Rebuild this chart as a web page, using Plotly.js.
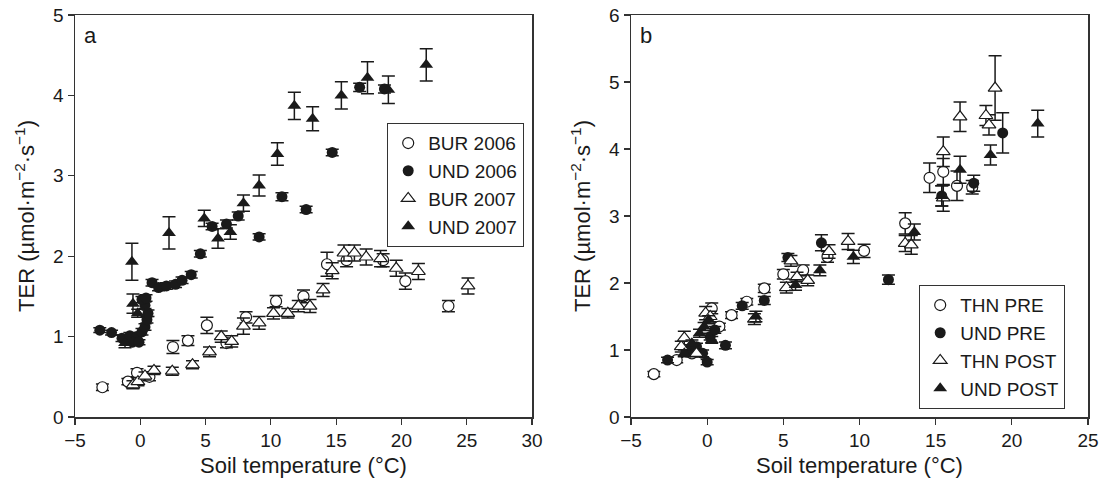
<!DOCTYPE html>
<html>
<head>
<meta charset="utf-8">
<script src="https://cdn.plot.ly/plotly-3.0.1.min.js"></script>
<style>html,body{margin:0;padding:0;background:#fff;}#chart{width:1101px;height:478px;}</style>
</head>
<body>
<div id="chart"></div>
<script>
// ---------- Panel a ----------
const a_bur2006_x = [-2.9, -0.95, -0.25, 0.7, 2.5, 3.65, 5.1, 6.6, 8.1, 10.4, 12.5, 14.3, 15.8, 18.6, 20.3, 23.6];
const a_bur2006_y = [0.37, 0.44, 0.55, 0.50, 0.87, 0.95, 1.14, 0.92, 1.24, 1.44, 1.50, 1.90, 1.95, 1.95, 1.69, 1.38];
const a_bur2006_e = [0.04, 0.04, 0.05, 0.05, 0.08, 0.06, 0.10, 0.06, 0.07, 0.07, 0.08, 0.15, 0.08, 0.08, 0.10, 0.07];

const a_und2006_x = [-3.1, -2.2, -1.4, -0.8, -0.25, -0.6, -0.1, 0.13, 0.36, 0.51, 0.59, 0.36, 0.13, 0.44, 0.9, 1.4, 2.0, 2.7, 3.2, 3.9, 4.6, 5.5, 6.6, 7.5, 9.1, 10.85, 12.7, 14.7, 16.8, 18.7];
const a_und2006_y = [1.08, 1.05, 0.98, 1.01, 1.00, 0.93, 0.93, 1.06, 1.12, 1.21, 1.29, 1.39, 1.46, 1.48, 1.67, 1.61, 1.63, 1.65, 1.70, 1.77, 2.03, 2.37, 2.40, 2.50, 2.24, 2.74, 2.58, 3.29, 4.10, 4.08];
const a_und2006_e = [0.03, 0.03, 0.04, 0.04, 0.04, 0.03, 0.03, 0.04, 0.04, 0.04, 0.04, 0.04, 0.04, 0.04, 0.04, 0.04, 0.04, 0.04, 0.04, 0.04, 0.04, 0.04, 0.05, 0.05, 0.04, 0.05, 0.04, 0.04, 0.05, 0.05];

const a_bur2007_x = [-0.56, -0.18, 0.36, 1.05, 2.45, 4.0, 5.3, 6.2, 7.0, 7.9, 9.1, 10.2, 11.3, 12.1, 13.0, 14.0, 14.7, 15.6, 16.4, 17.3, 18.4, 19.6, 21.3, 25.1];
const a_bur2007_y = [0.40, 0.44, 0.51, 0.58, 0.57, 0.65, 0.81, 1.00, 0.94, 1.13, 1.17, 1.29, 1.29, 1.38, 1.38, 1.58, 1.82, 2.04, 2.04, 1.99, 1.97, 1.85, 1.81, 1.63];
const a_bur2007_e = [0.05, 0.05, 0.05, 0.05, 0.05, 0.05, 0.06, 0.07, 0.07, 0.10, 0.08, 0.07, 0.06, 0.07, 0.08, 0.08, 0.10, 0.10, 0.10, 0.10, 0.10, 0.10, 0.10, 0.10];

const a_und2007_x = [-1.17, -0.64, -0.56, -0.2, 2.2, 4.9, 5.95, 6.9, 7.9, 9.1, 10.5, 11.8, 13.2, 15.4, 17.4, 19.0, 21.9];
const a_und2007_y = [0.92, 1.93, 1.41, 1.29, 2.29, 2.47, 2.22, 2.30, 2.66, 2.88, 3.27, 3.87, 3.71, 4.00, 4.22, 4.07, 4.38];
const a_und2007_e = [0.06, 0.23, 0.12, 0.05, 0.20, 0.10, 0.12, 0.09, 0.10, 0.13, 0.14, 0.17, 0.15, 0.17, 0.20, 0.17, 0.20];

// ---------- Panel b ----------
const b_thnpre_x = [-3.5, -2.0, -1.0, 0.3, 0.8, 1.6, 2.6, 3.75, 5.0, 6.3, 7.9, 10.3, 13.0, 14.6, 15.5, 16.4, 17.4];
const b_thnpre_y = [0.64, 0.85, 0.95, 1.62, 1.35, 1.52, 1.72, 1.92, 2.13, 2.19, 2.39, 2.48, 2.89, 3.57, 3.66, 3.45, 3.43];
const b_thnpre_e = [0.04, 0.04, 0.05, 0.08, 0.05, 0.05, 0.05, 0.06, 0.07, 0.08, 0.08, 0.10, 0.16, 0.22, 0.20, 0.22, 0.10];

const b_undpre_x = [-2.6, -1.2, -0.7, -0.3, 0.0, 0.2, 0.5, 1.2, 2.3, 3.75, 5.3, 7.5, 11.9, 15.4, 17.5, 19.4];
const b_undpre_y = [0.85, 0.98, 1.05, 0.95, 0.82, 1.20, 1.30, 1.07, 1.66, 1.74, 2.38, 2.60, 2.05, 3.30, 3.49, 4.24];
const b_undpre_e = [0.04, 0.05, 0.05, 0.05, 0.04, 0.05, 0.05, 0.05, 0.05, 0.06, 0.06, 0.12, 0.07, 0.15, 0.12, 0.30];

const b_thnpost_x = [-1.7, -1.5, -0.7, -0.1, 0.2, 3.1, 5.2, 5.5, 5.9, 6.6, 8.0, 9.25, 13.0, 13.4, 15.5, 15.5, 16.6, 18.3, 18.5, 18.9];
const b_thnpost_y = [1.05, 1.18, 0.95, 1.55, 1.50, 1.46, 1.93, 2.33, 2.09, 2.04, 2.47, 2.62, 2.59, 2.57, 3.96, 3.27, 4.48, 4.50, 4.36, 4.91];
const b_thnpost_e = [0.08, 0.10, 0.05, 0.10, 0.08, 0.08, 0.08, 0.08, 0.07, 0.08, 0.10, 0.12, 0.12, 0.14, 0.22, 0.20, 0.22, 0.15, 0.15, 0.48];

const b_undpost_x = [-1.5, -1.0, -0.5, -0.2, 0.1, 0.3, 3.2, 5.8, 7.4, 9.6, 13.6, 15.4, 16.6, 18.6, 21.7];
const b_undpost_y = [0.95, 1.10, 1.25, 1.35, 1.45, 1.15, 1.50, 1.97, 2.19, 2.39, 2.76, 3.30, 3.69, 3.91, 4.38];
const b_undpost_e = [0.05, 0.05, 0.06, 0.06, 0.06, 0.05, 0.08, 0.08, 0.08, 0.10, 0.12, 0.15, 0.20, 0.15, 0.20];

const legendA = ['BUR 2006', 'UND 2006', 'BUR 2007', 'UND 2007'];
const legendB = ['THN PRE', 'UND PRE', 'THN POST', 'UND POST'];

const INK = '#1a1a1a';
function tr(x, y, e, name, symbol, filled, xa, ya, leg) {
  const isTri = symbol.indexOf('triangle') === 0;
  return {
    type: 'scatter', mode: 'markers', x: x, y: y, name: name,
    xaxis: xa, yaxis: ya, legend: leg,
    error_y: {type: 'data', array: e, visible: true, color: INK, thickness: 1.5, width: 6.5},
    marker: {symbol: symbol, size: isTri ? 12 : 11,
             color: filled ? INK : '#ffffff',
             line: {color: INK, width: filled ? 0 : 1.2}}
  };
}

const data = [
  tr(a_bur2006_x, a_bur2006_y, a_bur2006_e, legendA[0], 'circle', false, 'x', 'y', 'legend'),
  tr(a_und2006_x, a_und2006_y, a_und2006_e, legendA[1], 'circle', true, 'x', 'y', 'legend'),
  tr(a_bur2007_x, a_bur2007_y, a_bur2007_e, legendA[2], 'triangle-up', false, 'x', 'y', 'legend'),
  tr(a_und2007_x, a_und2007_y, a_und2007_e, legendA[3], 'triangle-up', true, 'x', 'y', 'legend'),
  tr(b_thnpre_x, b_thnpre_y, b_thnpre_e, legendB[0], 'circle', false, 'x2', 'y2', 'legend2'),
  tr(b_undpre_x, b_undpre_y, b_undpre_e, legendB[1], 'circle', true, 'x2', 'y2', 'legend2'),
  tr(b_thnpost_x, b_thnpost_y, b_thnpost_e, legendB[2], 'triangle-up', false, 'x2', 'y2', 'legend2'),
  tr(b_undpost_x, b_undpost_y, b_undpost_e, legendB[3], 'triangle-up', true, 'x2', 'y2', 'legend2')
];

const tickFont = {family: 'Liberation Sans Narrow, Liberation Sans, Arial, sans-serif', size: 19, color: INK};
const titleFont = {family: 'Liberation Sans, Arial, sans-serif', size: 22, color: INK};
const yTitle = 'TER (µmol·m<sup>−2</sup>·s<sup>−1</sup>)';

function xAxis(domain, range, anchor) {
  return {domain: domain, range: range, anchor: anchor, dtick: 5, tick0: 0,
    showgrid: false, zeroline: false, showline: true, linecolor: '#333', linewidth: 1.5,
    mirror: true, ticks: 'outside', ticklen: 6, tickwidth: 1.2, tickcolor: '#333',
    tickfont: tickFont, title: {text: 'Soil temperature (°C)', font: titleFont, standoff: 10}};
}
function yAxis(range, anchor) {
  return {domain: [0, 1], range: range, anchor: anchor, dtick: 1, tick0: 0,
    showgrid: false, zeroline: false, showline: true, linecolor: '#333', linewidth: 1.5,
    mirror: true, ticks: 'outside', ticklen: 6, tickwidth: 1.2, tickcolor: '#333',
    tickfont: tickFont, title: {text: yTitle, font: titleFont, standoff: 12}};
}

const legStyle = {bgcolor: '#ffffff', bordercolor: '#333', borderwidth: 1.2,
  font: {family: 'Liberation Sans, Arial, sans-serif', size: 19, color: INK},
  xanchor: 'left', yanchor: 'top', itemwidth: 30, tracegroupgap: 0};

const layout = {
  width: 1101, height: 478,
  margin: {l: 0, r: 0, t: 15, b: 61},
  paper_bgcolor: '#ffffff', plot_bgcolor: '#ffffff',
  showlegend: true,
  xaxis: xAxis([75/1101, 532/1101], [-5, 30], 'y'),
  yaxis: yAxis([0, 5], 'x'),
  xaxis2: xAxis([631/1101, 1088/1101], [-5, 25], 'y2'),
  yaxis2: yAxis([0, 6], 'x2'),
  legend: Object.assign({x: 387/1101, y: (417-123)/402}, legStyle),
  legend2: Object.assign({x: 919/1101, y: (417-285)/402}, legStyle),
  annotations: [
    {text: 'a', xref: 'x domain', yref: 'y domain', x: 0.015, y: 0.95, xanchor: 'left', yanchor: 'middle',
     showarrow: false, font: {family: 'Liberation Sans, Arial, sans-serif', size: 22, color: INK}},
    {text: 'b', xref: 'x2 domain', yref: 'y2 domain', x: 0.015, y: 0.95, xanchor: 'left', yanchor: 'middle',
     showarrow: false, font: {family: 'Liberation Sans, Arial, sans-serif', size: 22, color: INK}}
  ]
};

Plotly.newPlot('chart', data, layout, {displayModeBar: false, staticPlot: true});
</script>
</body>
</html>
